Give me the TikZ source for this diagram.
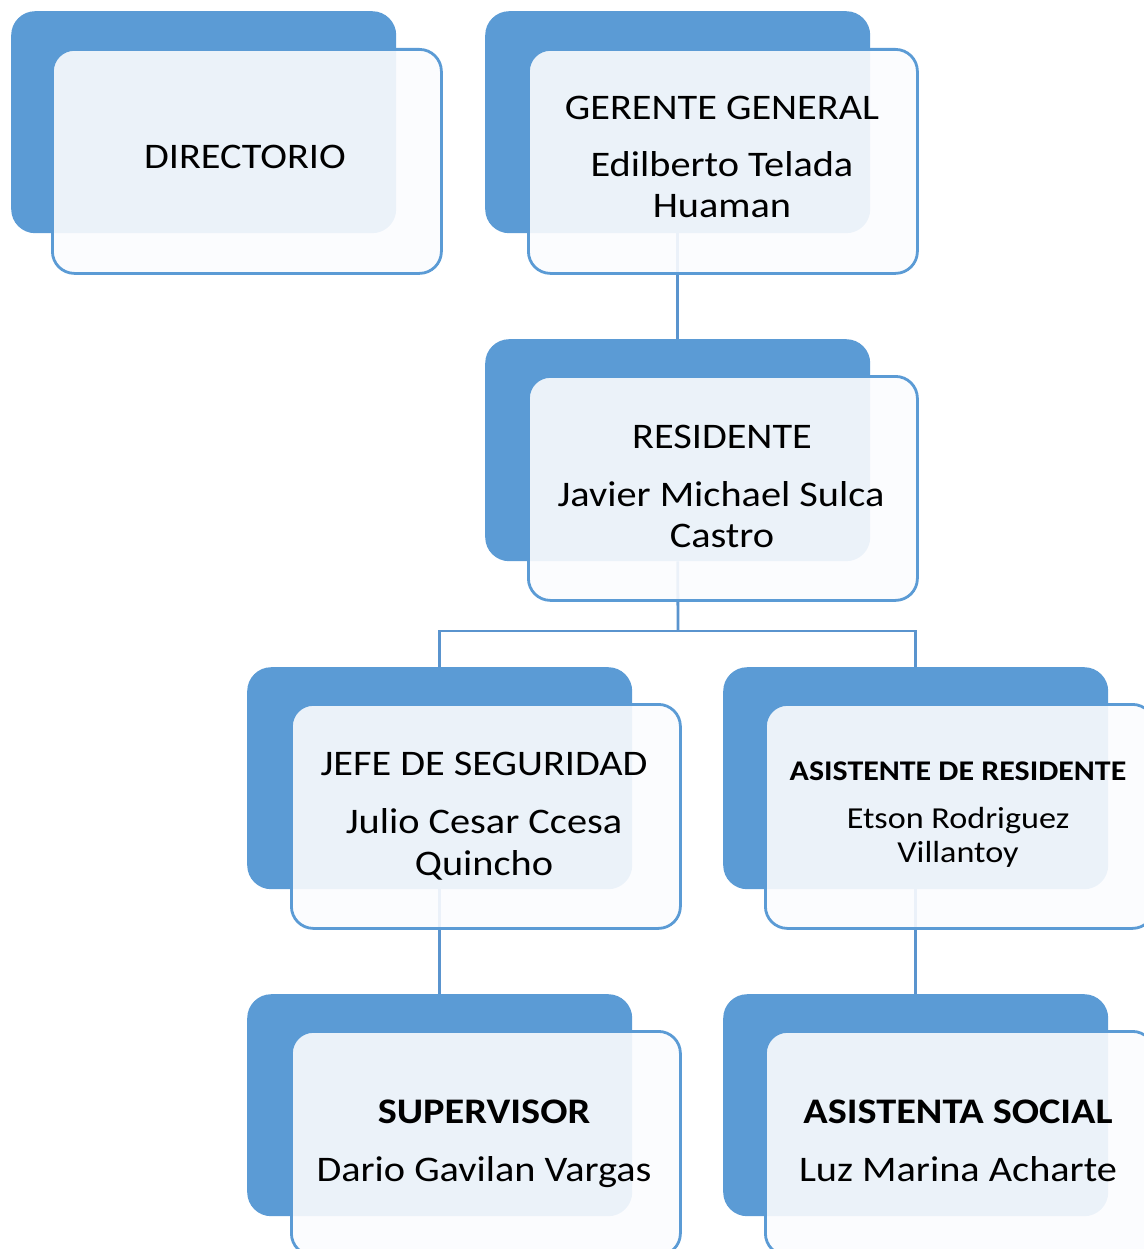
\documentclass[tikz,border=0pt]{standalone}
\usepackage{fontspec}
\setmainfont{Carlito}[FakeStretch=1.12]
\definecolor{boxblue}{HTML}{5B9BD5}
\definecolor{lineblue}{HTML}{5A94CE}
\definecolor{frontfill}{HTML}{FBFCFE}
\begin{document}
\begin{tikzpicture}[x=1pt,y=-1pt,
  backbox/.style={draw=none,fill=boxblue,rounded corners=24pt,minimum width=385pt,minimum height=222pt,inner sep=0pt,anchor=north west},
  frontbox/.style={draw=boxblue,line width=2.8pt,fill=frontfill,fill opacity=0.9,draw opacity=1,rounded corners=22pt,minimum width=389pt,minimum height=224pt,inner sep=0pt,anchor=north west},
  conn/.style={draw=lineblue,line width=2.8pt},
  big/.style={anchor=base,inner sep=0pt,font=\fontsize{36}{40}\selectfont},
  bigb/.style={anchor=base,inner sep=0pt,font=\fontsize{36}{40}\selectfont\bfseries},
  small/.style={anchor=base,inner sep=0pt,font=\fontsize{30.5}{34}\selectfont},
  smallb/.style={anchor=base,inner sep=0pt,font=\fontsize{28.5}{32}\selectfont\bfseries}]
\useasboundingbox (0,0) rectangle (1143,1249);
% back boxes
\node[backbox] (dirb) at (11,11) {};
\node[backbox] (gerb) at (485,11) {};
\node[backbox] (resb) at (485,339) {};
\node[backbox] (jefb) at (247,667) {};
\node[backbox] (asib) at (723,667) {};
\node[backbox] (supb) at (247,994) {};
\node[backbox] (socb) at (723,994) {};
% connectors
\coordinate (split) at (678,631);
\draw[conn] (gerb.south) -- (resb.north);
\draw[conn] (resb.south) -- (split);
\draw[conn] (jefb.north) |- (split) -| (asib.north);
\draw[conn] (jefb.south) -- (supb.north);
\draw[conn] (asib.south) -- (socb.north);
% front boxes
\node[frontbox] (dirf) at (51,48) {};
\node[frontbox] (gerf) at (527,48) {};
\node[frontbox] (resf) at (527,375) {};
\node[frontbox] (jeff) at (290,703) {};
\node[frontbox] (asif) at (764,703) {};
\node[frontbox] (supf) at (290,1030) {};
\node[frontbox] (socf) at (764,1030) {};
% texts
\node[big] (t1) at (245,169) {DIRECTORIO};
\node[big] (t2) at (722,120) {GERENTE GENERAL};
\node[big] (t3) at (722,177) {Edilberto Telada};
\node[big] (t4) at (722,218) {Huaman};
\node[big] (t5) at (722,448) {RESIDENTE};
\node[big] (t6) at (721,506) {Javier Michael Sulca};
\node[big] (t7) at (722,547) {Castro};
\node[big] (t8) at (484,775) {JEFE DE SEGURIDAD};
\node[big] (t9) at (484,833) {Julio Cesar Ccesa};
\node[big] (t10) at (484,875) {Quincho};
\node[smallb] (t11) at (958,780) {ASISTENTE DE RESIDENTE};
\node[small] (t12) at (958,828) {Etson Rodriguez};
\node[small] (t13) at (958,862) {Villantoy};
\node[bigb] (t14) at (484,1123) {SUPERVISOR};
\node[big] (t15) at (484,1181) {Dario Gavilan Vargas};
\node[bigb] (t16) at (958,1123) {ASISTENTA SOCIAL};
\node[big] (t17) at (958,1181) {Luz Marina Acharte};
\end{tikzpicture}
\end{document}
